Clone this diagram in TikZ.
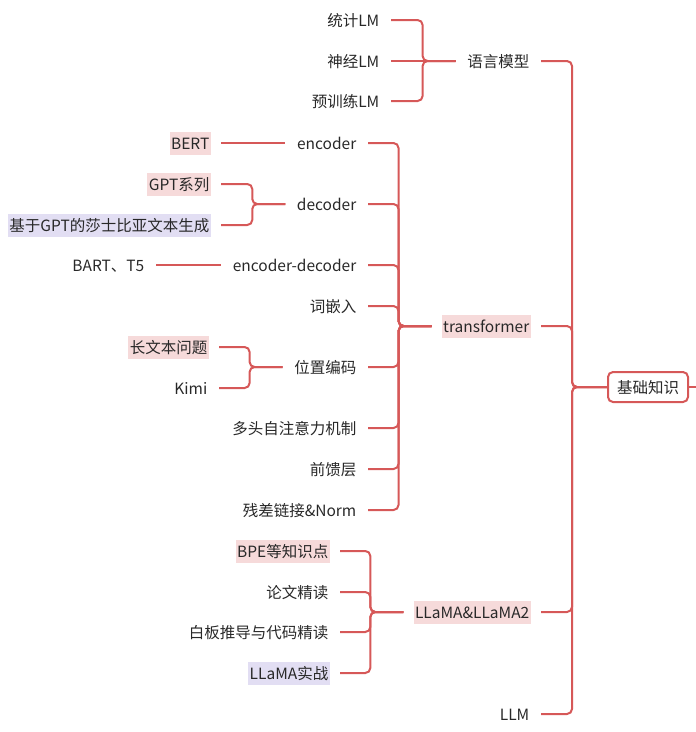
\documentclass[tikz,border=0pt]{standalone}
\usepackage{fontspec}
\setmainfont{Noto Sans CJK SC}
\usetikzlibrary{calc}
\definecolor{linkred}{RGB}{214,88,88}
\definecolor{hlpink}{RGB}{246,218,218}
\definecolor{hlpurple}{RGB}{226,222,243}
\definecolor{inkgray}{RGB}{40,40,40}

\begin{document}
\begin{tikzpicture}[
    x=1pt, y=-1pt,
    every node/.style={
        font=\fontsize{15.5pt}{18pt}\selectfont, text=inkgray
    },
    root/.style={
        rectangle, rounded corners=5pt, draw=linkred, line width=2pt,
        fill=white, minimum width=80pt, minimum height=30pt, inner sep=0pt,
        text height=13.5pt, text depth=1.5pt
    },
    topic/.style={
        rectangle, fill=#1, anchor=east, inner xsep=1.5pt, inner ysep=4pt,
        text height=13.5pt, text depth=1.5pt
    },
    topic/.default=none,
    link/.style={
        draw=linkred, line width=2pt, rounded corners=5pt
    }
]
\useasboundingbox (0,0) rectangle (696,732);

% ── Root ──
\node[root] (base) at (648,387) {基础知识};
\coordinate (baseout) at (696,387);

% ── Level 1 ──
\node[topic] (lm) at (531,61) {语言模型};
\node[topic=hlpink] (trans) at (531,326) {transformer};
\node[topic=hlpink] (llama) at (531,612) {LLaMA\&LLaMA2};
\node[topic] (llm) at (531,714) {LLM};

% ── 语言模型 ──
\node[topic] (tj) at (381,20) {统计LM};
\node[topic] (sj) at (381,61) {神经LM};
\node[topic] (yxl) at (381,101) {预训练LM};

% ── transformer ──
\node[topic] (enc) at (358,143) {encoder};
\node[topic] (dec) at (358,204) {decoder};
\node[topic] (encdec) at (358,265) {encoder-decoder};
\node[topic] (emb) at (358,306) {词嵌入};
\node[topic] (pos) at (358,367) {位置编码};
\node[topic] (mha) at (358,428) {多头自注意力机制};
\node[topic] (ffn) at (358,469) {前馈层};
\node[topic] (res) at (358,510) {残差链接\&Norm};

\node[topic=hlpink] (bert) at (211,143) {BERT};
\node[topic=hlpink] (gpt) at (211,184) {GPT系列};
\node[topic=hlpurple] (shake) at (211,225) {基于GPT的莎士比亚文本生成};
\node[topic] (bart) at (146,265) {BART、T5};
\node[topic=hlpink] (longtext) at (209,347) {长文本问题};
\node[topic] (kimi) at (209,388) {Kimi};

% ── LLaMA&LLaMA2 ──
\node[topic=hlpink] (bpe) at (330,551) {BPE等知识点};
\node[topic] (paper) at (330,592) {论文精读};
\node[topic] (board) at (330,632) {白板推导与代码精读};
\node[topic=hlpurple] (practice) at (330,673) {LLaMA实战};

% ── Links: root ──
\draw[link] (base.east) -- (baseout);
\draw[link] ([xshift=10pt]lm.east) -| ([xshift=-35pt]base.west) -- (base.west);
\draw[link] ([xshift=10pt]trans.east) -| ([xshift=-35pt]base.west) -- (base.west);
\draw[link] ([xshift=10pt]llama.east) -| ([xshift=-35pt]base.west) -- (base.west);
\draw[link] ([xshift=10pt]llm.east) -| ([xshift=-35pt]base.west) -- (base.west);

% ── Links: 语言模型 ──
\draw[link] ([xshift=10pt]tj.east) -| ([xshift=-43pt]lm.west) -- ([xshift=-10pt]lm.west);
\draw[link] ([xshift=10pt]sj.east) -- ([xshift=-10pt]lm.west);
\draw[link] ([xshift=10pt]yxl.east) -| ([xshift=-43pt]lm.west) -- ([xshift=-10pt]lm.west);

% ── Links: transformer ──
\draw[link] ([xshift=10pt]enc.east) -| ([xshift=-43pt]trans.west) -- ([xshift=-10pt]trans.west);
\draw[link] ([xshift=10pt]dec.east) -| ([xshift=-43pt]trans.west) -- ([xshift=-10pt]trans.west);
\draw[link] ([xshift=10pt]encdec.east) -| ([xshift=-43pt]trans.west) -- ([xshift=-10pt]trans.west);
\draw[link] ([xshift=10pt]emb.east) -| ([xshift=-43pt]trans.west) -- ([xshift=-10pt]trans.west);
\draw[link] ([xshift=10pt]pos.east) -| ([xshift=-43pt]trans.west) -- ([xshift=-10pt]trans.west);
\draw[link] ([xshift=10pt]mha.east) -| ([xshift=-43pt]trans.west) -- ([xshift=-10pt]trans.west);
\draw[link] ([xshift=10pt]ffn.east) -| ([xshift=-43pt]trans.west) -- ([xshift=-10pt]trans.west);
\draw[link] ([xshift=10pt]res.east) -| ([xshift=-43pt]trans.west) -- ([xshift=-10pt]trans.west);

\draw[link] ([xshift=10pt]bert.east) -- ([xshift=-10pt]enc.west);
\draw[link] ([xshift=10pt]gpt.east) -| ([xshift=-43pt]dec.west) -- ([xshift=-10pt]dec.west);
\draw[link] ([xshift=10pt]shake.east) -| ([xshift=-43pt]dec.west) -- ([xshift=-10pt]dec.west);
\draw[link] ([xshift=10pt]bart.east) -- ([xshift=-10pt]encdec.west);
\draw[link] ([xshift=10pt]longtext.east) -| ([xshift=-43pt]pos.west) -- ([xshift=-10pt]pos.west);
\draw[link] ([xshift=10pt]kimi.east) -| ([xshift=-43pt]pos.west) -- ([xshift=-10pt]pos.west);

% ── Links: LLaMA&LLaMA2 ──
\draw[link] ([xshift=10pt]bpe.east) -| ([xshift=-43pt]llama.west) -- ([xshift=-10pt]llama.west);
\draw[link] ([xshift=10pt]paper.east) -| ([xshift=-43pt]llama.west) -- ([xshift=-10pt]llama.west);
\draw[link] ([xshift=10pt]board.east) -| ([xshift=-43pt]llama.west) -- ([xshift=-10pt]llama.west);
\draw[link] ([xshift=10pt]practice.east) -| ([xshift=-43pt]llama.west) -- ([xshift=-10pt]llama.west);

\end{tikzpicture}
\end{document}
